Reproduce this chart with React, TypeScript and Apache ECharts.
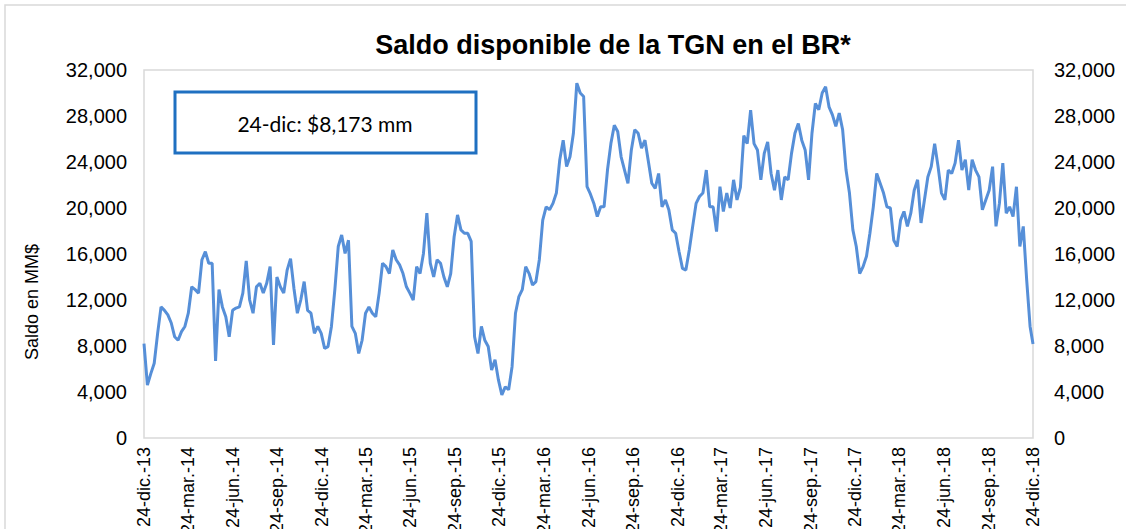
import React, { useEffect, useRef } from "react";
import * as echarts from "echarts";

const title = "Saldo disponible de la TGN en el BR*";
const yAxisName = "Saldo en MM$";

// weekly readings of the balance (MM$), from 24-dic-13 to 24-dic-18
const saldo = [
  8200, 4600, 5600, 6500, 9100, 11400, 11100, 10700, 10000, 8800,
  8500, 9250, 9700, 10850, 13150, 12900, 12600, 15500, 16200, 15200,
  15200, 6700, 12900, 11400, 10550, 8800, 11100, 11300, 11400, 12600,
  15400, 12000, 10850, 13150, 13450, 12600, 13450, 14900, 8100, 14000,
  13150, 12600, 14600, 15600, 13000, 10850, 12000, 13600, 11100, 10850,
  9100, 9700, 9100, 7800, 7950, 9700, 12900, 16650, 17650, 16050,
  17200, 9700, 9100, 7350, 8500, 10850, 11400, 10850, 10550, 12600,
  15200, 14900, 14300, 16350, 15500, 15050, 14300, 13150, 12600, 12000,
  14900, 14300, 16050, 19550, 15200, 14000, 15500, 15200, 14000, 13150,
  14300, 17500, 19400, 18100, 17800, 17800, 17100, 8800, 7350, 9700,
  8500, 7950, 5900, 6800, 5050, 3750, 4450, 4200, 6200, 10850,
  12300, 12900, 14900, 14300, 13300, 13600, 15500, 18950, 20100, 19850,
  20400, 21300, 24200, 25900, 23600, 24450, 26500, 30850, 30000, 29700,
  21850, 21200, 20400, 19250, 20100, 20100, 23300, 25600, 27200, 26650,
  24450, 23300, 22150, 25050, 26800, 26500, 25200, 25900, 24050, 22150,
  21700, 23000, 20100, 20700, 19850, 18100, 17800, 16200, 14750, 14600,
  16350, 18400, 20400, 21000, 21300, 23300, 20100, 20100, 17950, 21850,
  19700, 21300, 20000, 22450, 20700, 21800, 26300, 25600, 28500, 25600,
  25050, 22450, 24750, 25750, 23000, 21550, 23300, 20700, 22700, 22450,
  24750, 26500, 27350, 25900, 25050, 22450, 26500, 29100, 28550, 30000,
  30550, 28800, 28100, 27100, 28250, 26800, 23300, 21300, 18100, 16650,
  14300, 14900, 15800, 17800, 20100, 23000, 22150, 21300, 20100, 20000,
  17200, 16650, 18950, 19700, 18400, 19550, 21550, 22450, 18700, 20700,
  22700, 23600, 25600, 23600, 21300, 20700, 23300, 23000, 23900, 25900,
  23300, 24200, 21550, 24200, 23300, 22700, 19850, 20700, 21550, 23600,
  18400, 20400, 23900, 19550, 20100, 19250, 21850, 16650, 18400, 13750,
  9700, 8173,
];

const tickDates = [
  "2013-12-24", "2014-03-24", "2014-06-24", "2014-09-24", "2014-12-24",
  "2015-03-24", "2015-06-24", "2015-09-24", "2015-12-24", "2016-03-24",
  "2016-06-24", "2016-09-24", "2016-12-24", "2017-03-24", "2017-06-24",
  "2017-09-24", "2017-12-24", "2018-03-24", "2018-06-24", "2018-09-24",
  "2018-12-24",
];
const tickLabels = [
  "24-dic.-13", "24-mar.-14", "24-jun.-14", "24-sep.-14", "24-dic.-14",
  "24-mar.-15", "24-jun.-15", "24-sep.-15", "24-dic.-15", "24-mar.-16",
  "24-jun.-16", "24-sep.-16", "24-dic.-16", "24-mar.-17", "24-jun.-17",
  "24-sep.-17", "24-dic.-17", "24-mar.-18", "24-jun.-18", "24-sep.-18",
  "24-dic.-18",
];
const yTicks = { min: 0, max: 32000, interval: 4000 };

const DAY = 86400000;
const start = Date.parse(tickDates[0]);
const end = Date.parse(tickDates[tickDates.length - 1]);
const totalDays = Math.round((end - start) / DAY);
const tickOffsets = tickDates.map((d) => Math.round((Date.parse(d) - start) / DAY));
const fmt = (v: number) => v.toLocaleString("en-US");

export default function App() {
  const ref = useRef<HTMLDivElement>(null);
  useEffect(() => {
    if (!ref.current) return;
    const chart = echarts.init(ref.current, undefined, { renderer: "svg" });
    const data = saldo.map((v, i) => [Math.min(i * 7, totalDays), v]);
    const last = saldo[saldo.length - 1];
    const labelFont = { fontFamily: "Liberation Sans", color: "#000" };
    const yAxisBase = {
      type: "value",
      min: yTicks.min,
      max: yTicks.max,
      interval: yTicks.interval,
      axisLine: { show: false },
      axisTick: { show: false },
      splitLine: { show: false },
      axisLabel: { ...labelFont, fontSize: 20, formatter: (v: number) => fmt(v) },
    };
    chart.setOption({
      animation: false,
      backgroundColor: "#fff",
      title: {
        text: title,
        left: 608,
        top: 26,
        textAlign: "center",
        textStyle: { fontFamily: "Liberation Sans", fontWeight: "bold", fontSize: 27, color: "#000" },
      },
      grid: {
        left: 144,
        right: 93,
        top: 70,
        bottom: 91,
        show: true,
        borderColor: "#d9d9d9",
        borderWidth: 1.5,
        backgroundColor: "transparent",
        outerBoundsMode: "none",
      },
      xAxis: {
        type: "value",
        min: 0,
        max: totalDays,
        axisLine: { show: false },
        splitLine: { show: false },
        axisTick: { show: false, customValues: tickOffsets },
        axisLabel: {
          ...labelFont,
          fontSize: 18,
          rotate: 90,
          margin: 9,
          customValues: tickOffsets,
          formatter: (v: number) => {
            const i = tickOffsets.indexOf(Math.round(v));
            return i >= 0 ? tickLabels[i] : "";
          },
        },
      },
      yAxis: [
        { ...yAxisBase, position: "left", axisLabel: { ...yAxisBase.axisLabel, margin: 17 } },
        { ...yAxisBase, position: "right", axisLabel: { ...yAxisBase.axisLabel, margin: 21 } },
      ],
      series: [
        {
          type: "line",
          data,
          showSymbol: false,
          lineStyle: { color: "#568fd8", width: 3 },
          itemStyle: { color: "#568fd8" },
        },
      ],
      graphic: [
        {
          type: "rect",
          shape: { x: 5, y: 5, width: 1200, height: 600 },
          style: { fill: "none", stroke: "#d9d9d9", lineWidth: 1.5 },
          silent: true,
          z: -1,
        },
        {
          type: "text",
          x: 32,
          y: 302,
          rotation: Math.PI / 2,
          style: {
            text: yAxisName,
            fontFamily: "Liberation Sans",
            fontSize: 18,
            fill: "#000",
            align: "center",
            verticalAlign: "middle",
          },
        },
        {
          type: "rect",
          shape: { x: 175, y: 92, width: 301, height: 61 },
          style: { fill: "#fff", stroke: "#1f70c1", lineWidth: 3 },
          z: 10,
        },
        {
          type: "text",
          x: 325,
          y: 123,
          z: 11,
          style: {
            text: `24-dic: $${fmt(last)} mm`,
            fontFamily: "Lato",
            fontSize: 21,
            fill: "#000",
            align: "center",
            verticalAlign: "middle",
          },
        },
      ],
    });
    return () => chart.dispose();
  }, []);
  return (
    <div
      ref={ref}
      style={{ position: "absolute", left: 0, top: 0, width: 1126, height: 529 }}
    />
  );
}
